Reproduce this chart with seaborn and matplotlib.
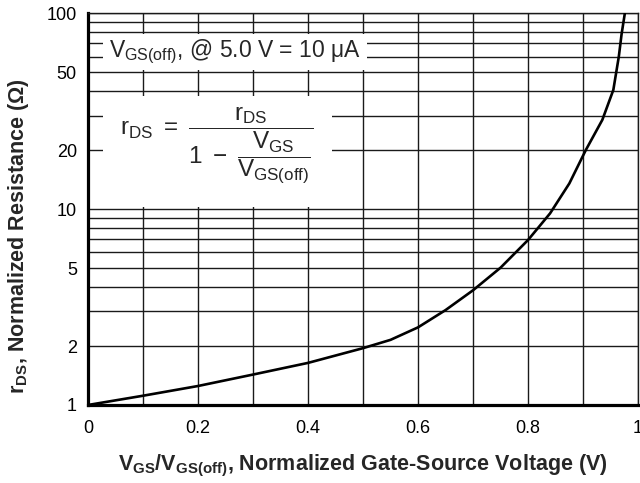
import matplotlib
matplotlib.use("Agg")
import matplotlib.pyplot as plt
import matplotlib.ticker as mticker
from matplotlib.patches import Rectangle
import seaborn as sns
import pandas as pd

# curve (normalized VGS vs normalized rDS)
vgs_norm = [0, 0.1, 0.2, 0.3, 0.4, 0.5, 0.55, 0.6, 0.65, 0.7, 0.75, 0.8,
            0.84, 0.875, 0.905, 0.935, 0.955, 0.965, 0.97, 0.976]
rds_norm = [1.0, 1.115, 1.25, 1.43, 1.64, 1.95, 2.15, 2.49, 3.05, 3.85, 5.02, 6.95,
            9.5, 13.5, 20, 28.5, 40.5, 60, 78, 100]

x_major = [0, 0.2, 0.4, 0.6, 0.8, 1]
x_labels = ["0", "0.2", "0.4", "0.6", "0.8", "1"]
y_major = [1, 2, 5, 10, 20, 50, 100]
y_labels = ["1", "2", "5", "10", "20", "50", "100"]

df = pd.DataFrame({"vgs": vgs_norm, "rds": rds_norm})

sns.set_style("white")
plt.rcParams["font.family"] = ["Liberation Sans", "DejaVu Sans"]
plt.rcParams["mathtext.fontset"] = "custom"
plt.rcParams["mathtext.rm"] = "Liberation Sans"
plt.rcParams["mathtext.it"] = "Liberation Sans"
plt.rcParams["mathtext.bf"] = "Liberation Sans:bold"

fig = plt.figure(figsize=(6.4, 4.83), dpi=100)
ax = fig.add_axes([0.1375, 0.1615, 0.8595, 0.8115])

sns.lineplot(data=df, x="vgs", y="rds", color="black", linewidth=1.9, ax=ax, zorder=3)

ax.set_yscale("log")
ax.set_xlim(0, 1)
ax.set_ylim(1, 100)

ax.xaxis.set_major_locator(mticker.FixedLocator(x_major))
ax.xaxis.set_major_formatter(mticker.FixedFormatter(x_labels))
ax.xaxis.set_minor_locator(mticker.MultipleLocator(0.1))
ax.yaxis.set_major_locator(mticker.FixedLocator(y_major))
ax.yaxis.set_major_formatter(mticker.FixedFormatter(y_labels))
ax.yaxis.set_minor_locator(mticker.LogLocator(base=10, subs=range(1, 10), numticks=20))
ax.yaxis.set_minor_formatter(mticker.NullFormatter())

ax.set_axisbelow(True)
ax.grid(True, which="both", color="#1a1a1a", linewidth=1.0)
ax.tick_params(which="both", length=0, labelsize=13, colors="black")
ax.tick_params(axis="x", pad=11)
ax.tick_params(axis="y", pad=8)

for side in ["left", "bottom"]:
    ax.spines[side].set_linewidth(2.3)
    ax.spines[side].set_color("black")
for side in ["top", "right"]:
    ax.spines[side].set_linewidth(1.0)
    ax.spines[side].set_color("#1a1a1a")

ax.set_xlabel(r"V$_\mathbf{GS}$/V$_\mathbf{GS(off)}$, Normalized Gate-Source Voltage (V)",
              fontsize=15.5, fontweight="bold", labelpad=11)
ax.set_ylabel(r"r$_\mathbf{DS}$, Normalized Resistance (Ω)",
              fontsize=15.5, fontweight="bold")
ax.yaxis.set_label_coords(-0.104, 0.43)

# white boxes that hide the grid behind the annotations
ax.add_patch(Rectangle((0.027, 0.855), 0.48, 0.091, transform=ax.transAxes,
                       facecolor="white", edgecolor="none", zorder=1))
ax.add_patch(Rectangle((0.027, 0.505), 0.417, 0.283, transform=ax.transAxes,
                       facecolor="white", edgecolor="none", zorder=1))

ax.text(0.267, 0.90, r"V$_\mathrm{GS(off)}$, @ 5.0 V = 10 μA", transform=ax.transAxes,
        ha="center", va="center", fontsize=16.5, zorder=4)
ax.text(0.234, 0.662,
        r"$r_\mathrm{DS}\ =\ \dfrac{r_\mathrm{DS}}{1\ -\ \dfrac{V_\mathrm{GS}}{V_\mathrm{GS(off)}}}$",
        transform=ax.transAxes, ha="center", va="center", fontsize=17.5, zorder=4)

fig.savefig("out.png", dpi=100)
